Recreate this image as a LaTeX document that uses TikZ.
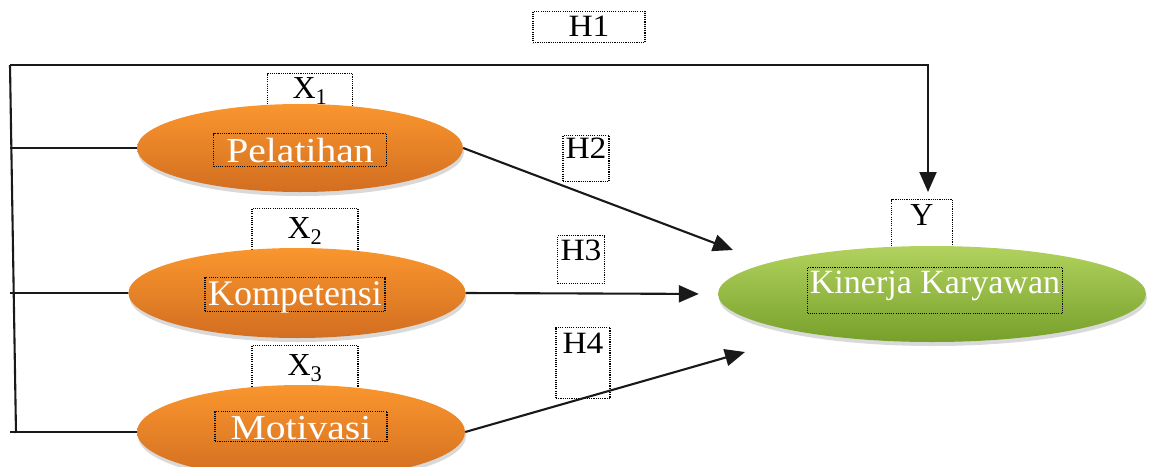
\documentclass[tikz,border=0pt]{standalone}
\usepackage{fontspec}
\setmainfont{Liberation Serif}
\newfontfamily\widefont[FakeStretch=1.13]{Liberation Serif}
\newfontfamily\hfont[FakeStretch=1.08]{Liberation Serif}
\usetikzlibrary{shapes.geometric,arrows.meta,shadows}
\definecolor{orTop}{RGB}{250,150,46}
\definecolor{orBot}{RGB}{210,110,32}
\definecolor{grTop}{RGB}{178,210,94}
\definecolor{grMid}{RGB}{138,180,58}
\definecolor{grBot}{RGB}{118,160,42}
\tikzset{
  ln/.style={line width=2.1pt, draw=black!90},
  arr/.style={ln, -{Triangle[length=20pt,width=17pt]}},
  dotbox/.style={draw=black, line width=1.1pt, dash pattern=on 1.1pt off 1.1pt, inner sep=0pt, anchor=north},
  lab/.style={dotbox, font=\fontsize{32}{32}\selectfont},
  hlab/.style={dotbox, font=\hfont\fontsize{31}{31}\selectfont},
  intext/.style={dotbox, text=white, font=\widefont\fontsize{35}{35}\selectfont},
  ovalO/.style={ellipse, inner sep=0pt, top color=orTop, bottom color=orBot,
    drop shadow={opacity=0.3, shadow xshift=1pt, shadow yshift=-4pt}},
  ovalG/.style={ellipse, inner sep=0pt, top color=grTop, middle color=grMid, bottom color=grBot,
    drop shadow={opacity=0.3, shadow xshift=1pt, shadow yshift=-4pt}},
}
\begin{document}
\begin{tikzpicture}[x=1pt,y=-1pt]
\useasboundingbox (0,0) rectangle (1150,466);
% labels
\node[hlab, minimum width=112pt, text height=25pt, text depth=6pt] (h1) at (589,11) {H1};
\node[hlab, minimum width=46pt, text height=23pt, text depth=23pt] (h2) at (586,135) {H2};
\node[hlab, minimum width=47pt, text height=25pt, text depth=23pt] (h3) at (581,235) {H3};
\node[hlab, minimum width=54pt, text height=26pt, text depth=45pt] (h4) at (583,327) {H4};
\node[lab, minimum width=85pt, text height=25pt, text depth=15pt] (x1) at (310,73) {X\textsubscript{1}};
\node[lab, minimum width=106pt, text height=30pt, text depth=15pt] (x2) at (305,208) {X\textsubscript{2}};
\node[lab, minimum width=106pt, text height=30pt, text depth=15pt] (x3) at (305,345) {X\textsubscript{3}};
\node[lab, minimum width=61pt, text height=26pt, text depth=22pt] (ylab) at (922,199) {Y};
% ellipses
\node[ovalO, minimum width=326pt, minimum height=88pt] (pel) at (300,148) {};
\node[ovalO, minimum width=337pt, minimum height=90pt] (kom) at (297,293) {};
\node[ovalO, minimum width=328pt, minimum height=94pt] (mot) at (301,432) {};
\node[ovalG, minimum width=428pt, minimum height=96pt] (kin) at (932,294) {};
% texts in ellipses
\node[intext, minimum width=173pt, text height=29pt, text depth=4pt] (pelt) at (300,133) {Pelatihan};
\node[intext, font=\fontsize{36}{36}\selectfont, minimum width=180pt, text height=28pt, text depth=6pt] (komt) at (295,277) {Kompetensi};
\node[intext, minimum width=172pt, text height=28pt, text depth=2pt] (mott) at (301,411) {Motivasi};
\node[intext, font=\fontsize{34}{34}\selectfont, minimum width=255pt, text height=26pt, text depth=20pt] (kint) at (935,267) {Kinerja Karyawan};
% connectors
\coordinate (tl) at (10,65);
\coordinate (bl) at (16,433);
\coordinate (tr) at (928,65);
\coordinate (t2) at (733,250);
\coordinate (t4) at (745,352);
\draw[ln] (tl) -- (bl);
\draw[ln] (pel.west) -- (pel.west -| tl);
\draw[ln] (kom.west) -- (kom.west -| tl);
\draw[ln] (mot.west) -- (mot.west -| tl);
\draw[arr, shorten >=7pt] (tl) -- (tr) -- (tr |- ylab.north);
\draw[arr] (pel.east) -- (t2);
\draw[arr, shorten >=19pt] (kom.east) -- (kin.west);
\draw[arr] (mot.east) -- (t4);
\end{tikzpicture}
\end{document}
